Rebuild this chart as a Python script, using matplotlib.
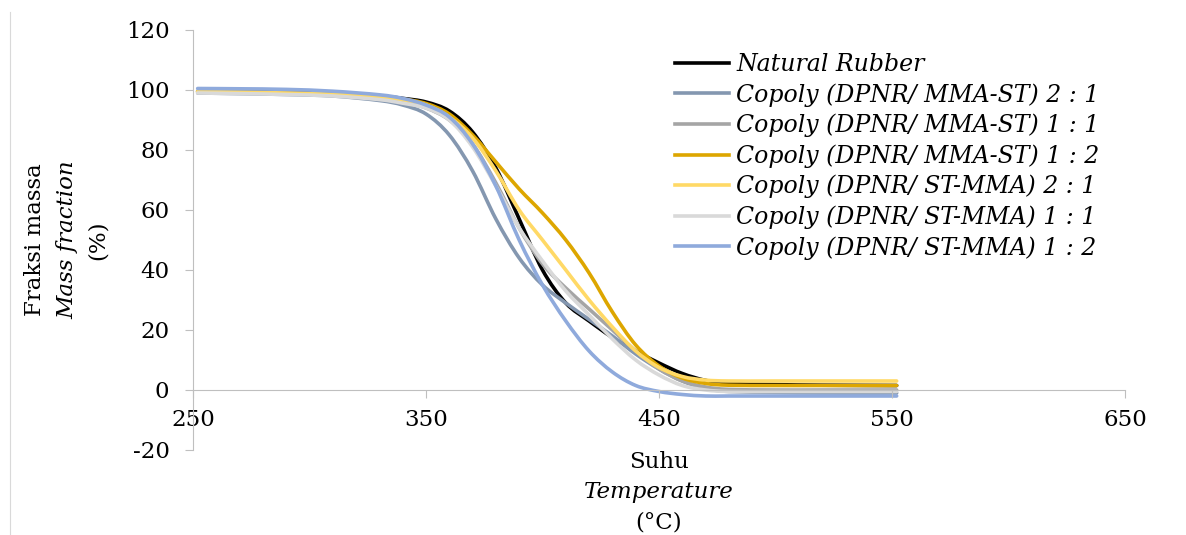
"""
TGA curves: mass fraction vs temperature for natural rubber and copolymers
"""

import matplotlib
matplotlib.use("Agg")
import matplotlib.pyplot as plt
from matplotlib.lines import Line2D
from matplotlib.path import Path
from matplotlib.patches import PathPatch

# Temperature points (deg C)
temps = [252, 270, 290, 310, 330, 340, 350, 360, 370, 380, 390, 400, 410, 420,
         430, 440, 450, 460, 470, 480, 500, 520, 552]

natural_rubber = [99.5, 99.4, 99.2, 98.8, 98.0, 97.2, 96.0, 93.0, 86.0, 74.0, 57.0, 40.0, 29.0, 23.0,
                  17.5, 13.0, 9.0, 5.5, 3.2, 2.2, 1.8, 1.6, 1.5]
mma_st_21 = [99.0, 98.8, 98.5, 98.0, 96.5, 95.0, 92.0, 85.0, 73.0, 57.0, 44.0, 35.0, 29.0, 23.5,
             18.0, 12.0, 7.0, 3.0, 0.5, -0.5, -0.8, -1.0, -1.0]
mma_st_11 = [99.5, 99.3, 99.0, 98.5, 97.3, 96.0, 94.0, 90.0, 82.0, 69.0, 54.0, 42.0, 34.0, 27.0,
             20.0, 13.0, 7.0, 3.0, 1.0, 0.2, 0.0, 0.0, 0.0]
mma_st_12 = [99.5, 99.3, 99.0, 98.6, 97.8, 97.0, 95.5, 92.0, 85.0, 76.0, 67.0, 59.0, 50.0, 39.0,
             26.0, 15.0, 8.0, 4.0, 2.2, 1.6, 1.5, 1.5, 1.5]
st_mma_21 = [99.5, 99.3, 99.0, 98.6, 97.6, 96.7, 95.0, 91.0, 84.0, 73.0, 60.0, 50.0, 40.0, 30.0,
             21.0, 13.0, 7.5, 4.5, 3.3, 3.0, 3.0, 3.0, 3.0]
st_mma_11 = [99.0, 98.8, 98.5, 98.0, 96.8, 95.6, 94.0, 90.0, 81.0, 68.0, 54.0, 43.0, 33.0, 25.0,
             17.0, 10.0, 5.0, 1.5, 0.0, -0.5, -0.5, -0.5, -0.5]
st_mma_12 = [100.5, 100.4, 100.2, 99.6, 98.4, 97.2, 95.0, 91.0, 82.0, 68.0, 50.0, 35.0, 23.0, 13.0,
             6.0, 1.5, -0.5, -1.5, -2.0, -2.0, -2.0, -2.0, -2.0]

series = [
    ("Natural Rubber", natural_rubber, "#000000"),
    ("Copoly (DPNR/ MMA-ST) 2 : 1", mma_st_21, "#8497B0"),
    ("Copoly (DPNR/ MMA-ST) 1 : 1", mma_st_11, "#A5A5A5"),
    ("Copoly (DPNR/ MMA-ST) 1 : 2", mma_st_12, "#DDA600"),
    ("Copoly (DPNR/ ST-MMA) 2 : 1", st_mma_21, "#FFD966"),
    ("Copoly (DPNR/ ST-MMA) 1 : 1", st_mma_11, "#D9D9D9"),
    ("Copoly (DPNR/ ST-MMA) 1 : 2", st_mma_12, "#8FAADC"),
]

x_ticks = [250, 350, 450, 550, 650]
y_ticks = [-20, 0, 20, 40, 60, 80, 100, 120]
y_labels = ["-20", "0", "20", "40", "60", "80", "100", "120"]


def smooth_path(xs, ys):
    """Bezier path through the points (like a spreadsheet 'smoothed line')"""
    verts = [(xs[0], ys[0])]
    codes = [Path.MOVETO]
    n = len(xs)
    for i in range(n - 1):
        x0, y0 = (xs[i - 1], ys[i - 1]) if i > 0 else (xs[i], ys[i])
        x1, y1 = xs[i], ys[i]
        x2, y2 = xs[i + 1], ys[i + 1]
        x3, y3 = (xs[i + 2], ys[i + 2]) if i + 2 < n else (x2, y2)
        c1 = (x1 + (x2 - x0) / 6, y1 + (y2 - y0) / 6)
        c2 = (x2 - (x3 - x1) / 6, y2 - (y3 - y1) / 6)
        verts += [c1, c2, (x2, y2)]
        codes += [Path.CURVE4, Path.CURVE4, Path.CURVE4]
    return Path(verts, codes)


plt.rcParams['font.family'] = ['DejaVu Serif']
W, H = 1186, 535
FS = 16.5
fig = plt.figure(figsize=(W / 100, H / 100), dpi=100)
ax = fig.add_axes([193 / W, 1 - 450 / H, (1125 - 193) / W, 420 / H])

handles = []
for label, values, color in series:
    patch = PathPatch(smooth_path(temps, values), facecolor='none', edgecolor=color, lw=2.6,
                      capstyle='round', joinstyle='round')
    ax.add_patch(patch)
    handles.append(Line2D([], [], color=color, lw=2.6, label=label))

ax.set_xlim(250, 650)
ax.set_ylim(-20, 120)
ax.set_xticks(x_ticks)
ax.set_yticks(y_ticks)
ax.set_yticklabels(y_labels)

axis_color = "#BFBFBF"
ax.spines['top'].set_visible(False)
ax.spines['right'].set_visible(False)
ax.spines['left'].set_color(axis_color)
ax.spines['bottom'].set_color(axis_color)
ax.spines['bottom'].set_position(('data', 0))
ax.tick_params(axis='y', direction='out', length=6, color=axis_color, labelsize=FS, pad=11)
ax.tick_params(axis='x', direction='out', length=6, color=axis_color, labelsize=FS, pad=8)

# Axis titles (mixed upright / italic lines)
ycen = 1 - 240 / H
fig.text(35 / W, ycen, "Fraksi massa", rotation=90, ha='center', va='center', fontsize=FS)
fig.text(67 / W, ycen, "Mass fraction", rotation=90, ha='center', va='center', fontsize=FS,
         style='italic')
fig.text(98 / W, ycen, "(%)", rotation=90, ha='center', va='center', fontsize=FS)

xcen = 659 / W
fig.text(xcen, 1 - 462 / H, "Suhu", ha='center', va='center', fontsize=FS)
fig.text(xcen, 1 - 492 / H, "Temperature", ha='center', va='center', fontsize=FS, style='italic')
fig.text(xcen, 1 - 522 / H, "(°C)", ha='center', va='center', fontsize=FS)

ax.legend(handles=handles, loc='upper left', bbox_to_anchor=(675 / W, 1 - 53 / H),
          bbox_transform=fig.transFigure, frameon=False, borderpad=0, borderaxespad=0,
          handlelength=2.3, handletextpad=0.3, labelspacing=0.3,
          prop={'size': 17, 'style': 'italic'})

# thin chart-area border seen at the left edge
fig.add_artist(Line2D([10 / W, 10 / W], [0, 1 - 12 / H], transform=fig.transFigure,
                      color="#D9D9D9", lw=0.8))

fig.savefig("out.png", dpi=100)
